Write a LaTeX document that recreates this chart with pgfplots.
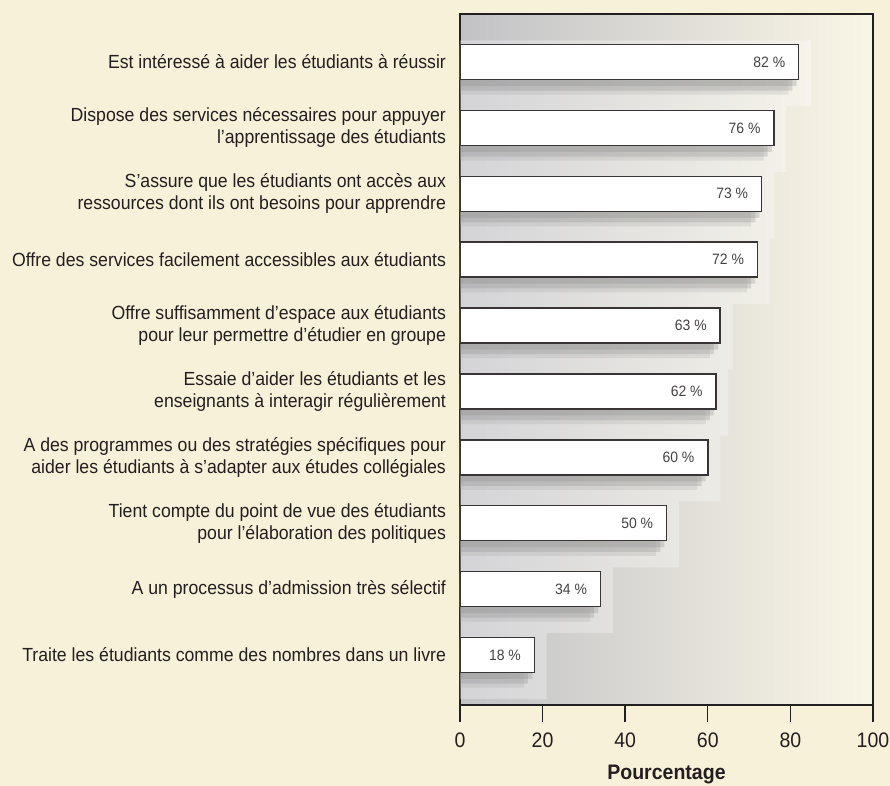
\documentclass[border=0pt]{standalone}
\usepackage{fontspec}
\setmainfont{Liberation Sans}[FakeStretch=0.93]
\usepackage{pgfplots}
\pgfplotsset{compat=1.18}
\definecolor{pagebg}{HTML}{F8F1DA}
\definecolor{leftgray}{HTML}{C2C2C6}
\definecolor{rightcream}{HTML}{FAF6E6}
\definecolor{txt}{HTML}{231F20}
\begin{document}
\begin{tikzpicture}
\path[fill=pagebg,use as bounding box] (-230pt,-40.5pt) rectangle (215pt,352.5pt);
\begin{axis}[
  at={(0,0)}, anchor=south west,
  scale only axis, width=206.5pt, height=345.5pt,
  xmin=0, xmax=100, ymin=-0.76, ymax=9.73,
  axis background/.style={left color=leftgray, right color=rightcream},
  axis line style={draw=txt, line width=0.7pt},
  /pgf/number format/assume math mode=true,
  xtick={0,20,40,60,80,100},
  tick align=outside, major tick length=8.5pt,
  xtick pos=bottom,
  x tick style={draw=txt, line width=0.7pt},
  xticklabel style={font=\fontsize{10.5}{12}\selectfont, text=txt, yshift=-2pt},
  xlabel={\textbf{Pourcentage}},
  xlabel style={font=\fontsize{10.5}{12}\selectfont, text=txt, yshift=-1.5pt},
  ytick={0,...,9},
  y tick style={draw=none},
  yticklabel style={align=right, font=\fontsize{9.5}{11}\selectfont, text=txt, xshift=5pt},
  yticklabels={
    {Traite les étudiants comme des nombres dans un livre},
    {A un processus d’admission très sélectif},
    {Tient compte du point de vue des étudiants\\pour l’élaboration des politiques},
    {A des programmes ou des stratégies spécifiques pour\\aider les étudiants à s’adapter aux études collégiales},
    {Essaie d’aider les étudiants et les\\enseignants à interagir régulièrement},
    {Offre suffisamment d’espace aux étudiants\\pour leur permettre d’étudier en groupe},
    {Offre des services facilement accessibles aux étudiants},
    {S’assure que les étudiants ont accès aux\\ressources dont ils ont besoins pour apprendre},
    {Dispose des services nécessaires pour appuyer\\l’apprentissage des étudiants},
    {Est intéressé à aider les étudiants à réussir}
  },
]
% light slot boxes
\addplot[xbar, bar width=1.0, bar shift=-0.17, draw=none, fill=white, fill opacity=0.3]
  coordinates {(85,9) (79,8) (76,7) (75,6) (66,5) (65,4) (63,3) (53,2) (37,1) (21,0)};
% shadows
\addplot[xbar, bar width=0.53, bar shift=-0.1, draw=none, fill=black!50, fill opacity=0.25]
  coordinates {(81.5,9) (75.5,8) (72.5,7) (71.5,6) (62.5,5) (61.5,4) (59.5,3) (49.5,2) (33.5,1) (17.5,0)};
\addplot[xbar, bar width=0.53, bar shift=-0.17, draw=none, fill=black!50, fill opacity=0.25]
  coordinates {(80.5,9) (74.5,8) (71.5,7) (70.5,6) (61.5,5) (60.5,4) (58.5,3) (48.5,2) (32.5,1) (16.5,0)};
\addplot[xbar, bar width=0.53, bar shift=-0.23, draw=none, fill=black!40, fill opacity=0.2]
  coordinates {(79.5,9) (73.5,8) (70.5,7) (69.5,6) (60.5,5) (59.5,4) (57.5,3) (47.5,2) (31.5,1) (15.5,0)};
% bars
\addplot[xbar, bar width=0.53, bar shift=0, draw=txt!90, line width=0.75pt, fill=white,
  nodes near coords={\pgfmathprintnumber{\pgfplotspointmeta}~\%},
  point meta=x,
  every node near coord/.append style={anchor=east, xshift=-3pt,
    font=\fontsize{7.5}{9}\selectfont, text=txt!85}]
  coordinates {(82,9) (76,8) (73,7) (72,6) (63,5) (62,4) (60,3) (50,2) (34,1) (18,0)};
\end{axis}
\end{tikzpicture}
\end{document}
